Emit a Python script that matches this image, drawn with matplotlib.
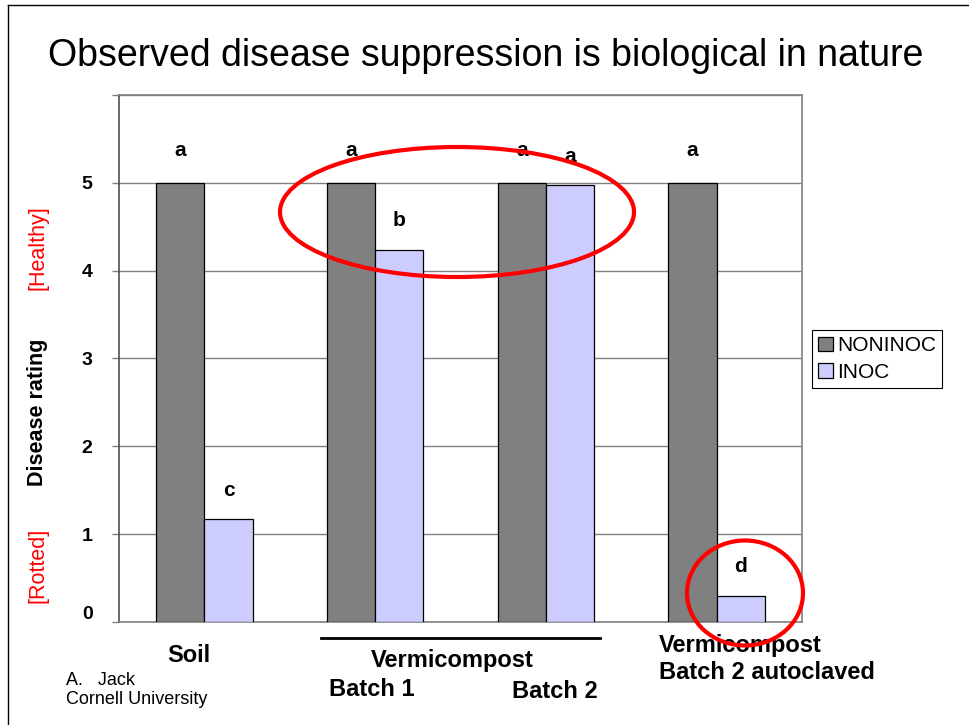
import numpy as np
import matplotlib.pyplot as plt
from matplotlib.patches import Ellipse
from matplotlib.lines import Line2D
import matplotlib.transforms as mtransforms

plt.rcParams['font.family'] = ['Liberation Sans', 'DejaVu Sans']

# Data
groups = ['Soil', 'Vermicompost Batch 1', 'Vermicompost Batch 2',
          'Vermicompost Batch 2 autoclaved']
noninoc = [5.0, 5.0, 5.0, 5.0]
inoc = [1.17, 4.24, 4.97, 0.30]
sig_noninoc = ['a', 'a', 'a', 'a']
sig_inoc = ['c', 'b', 'a', 'd']
yticks = [0, 1, 2, 3, 4, 5, 6]
ytick_labels = ['0', '1', '2', '3', '4', '5', '']

fig = plt.figure(figsize=(9.69, 7.25), dpi=100)
ax = fig.add_axes([0.1228, 0.1421, 0.7049, 0.7269])

x = np.arange(len(groups)) + 0.5
w = 0.283
ax.bar(x - w / 2, noninoc, w, color='#808080', edgecolor='black', linewidth=0.9,
       label='NONINOC', zorder=3)
ax.bar(x + w / 2, inoc, w, color='#CCCCFF', edgecolor='black', linewidth=0.9,
       label='INOC', zorder=3)

# significance letters
for xi, v, s in zip(x - w / 2, noninoc, sig_noninoc):
    ax.annotate(s, (xi, v), xytext=(0, 23), textcoords='offset points',
                ha='center', va='center', fontsize=15, fontweight='bold')
for xi, v, s in zip(x + w / 2, inoc, sig_inoc):
    ax.annotate(s, (xi, v), xytext=(0, 21), textcoords='offset points',
                ha='center', va='center', fontsize=15, fontweight='bold')

ax.set_xlim(0, len(groups))
ax.set_ylim(0, 6)
ax.set_yticks(yticks)
ax.set_yticklabels(ytick_labels, fontsize=14, fontweight='bold')
ax.tick_params(axis='y', length=5, width=1, pad=14, color='#808080')
ax.set_xticks([])
zero_lbl = ax.get_yticklabels()[0]
zero_lbl.set_transform(zero_lbl.get_transform() +
                       mtransforms.ScaledTranslation(0, 0.09, fig.dpi_scale_trans))
ax.yaxis.grid(True, color='#808080', linewidth=1, zorder=0)
for side in ['top', 'right', 'bottom']:
    ax.spines[side].set_color('#808080')
    ax.spines[side].set_linewidth(1.2)
ax.spines['left'].set_color('#505050')
ax.spines['left'].set_linewidth(1.2)

# y axis label pieces
fig.text(38 / 969, 1 - 248 / 725, '[Healthy]', rotation=90, color='red',
         fontsize=15.5, ha='center', va='center')
fig.text(38 / 969, 1 - 412 / 725, 'Disease rating', rotation=90,
         fontsize=15.5, fontweight='bold', ha='center', va='center')
fig.text(38 / 969, 1 - 565 / 725, '[Rotted]', rotation=90, color='red',
         fontsize=15.5, ha='center', va='center')

# category labels under the axis
trans = mtransforms.blended_transform_factory(ax.transData, fig.transFigure)
ax.text(x[0] - 0.09, 1 - 655 / 725, 'Soil', transform=trans, ha='center',
        va='center', fontsize=17, fontweight='bold')
ax.text((x[1] + x[2]) / 2 - 0.05, 1 - 660 / 725, 'Vermicompost', transform=trans,
        ha='center', va='center', fontsize=17, fontweight='bold')
ax.text(x[1] - 0.02, 1 - 690 / 725, 'Batch 1', transform=trans, ha='center',
        va='center', fontsize=17, fontweight='bold')
ax.text(x[2] + 0.05, 1 - 692 / 725, 'Batch 2', transform=trans, ha='center',
        va='center', fontsize=17, fontweight='bold')
ax.text(x[3] - 0.34, 1 - 659 / 725, 'Vermicompost\nBatch 2 autoclaved',
        transform=trans, ha='left', va='center', fontsize=17,
        fontweight='bold', linespacing=1.25)
fig.add_artist(Line2D([321 / 969, 600 / 969], [1 - 638 / 725, 1 - 638 / 725],
                      color='black', linewidth=2))

fig.text(66 / 969, 1 - 690 / 725, 'A.   Jack\nCornell University',
         fontsize=13, ha='left', va='center', linespacing=1.15)

# legend
leg = fig.legend(loc='upper left', bbox_to_anchor=(812 / 969, 1 - 330 / 725),
                 fontsize=15, frameon=True, fancybox=False, framealpha=1,
                 edgecolor='black', handlelength=0.7, handleheight=0.7,
                 handletextpad=0.2, borderpad=0.3, labelspacing=0.35,
                 borderaxespad=0)
leg.get_frame().set_linewidth(0.8)

# title
fig.text(486 / 969, 1 - 56 / 725,
         'Observed disease suppression is biological in nature',
         fontsize=27, ha='center', va='center')

# red highlight ellipses
fig.add_artist(Ellipse((457 / 969, 1 - 212 / 725), 354 / 969, 130 / 725,
                       transform=fig.transFigure, fill=False, edgecolor='red',
                       linewidth=3, zorder=10))
fig.add_artist(Ellipse((745 / 969, 1 - 593 / 725), 116 / 969, 105 / 725,
                       transform=fig.transFigure, fill=False, edgecolor='red',
                       linewidth=3, zorder=10))

# slide border
fig.add_artist(Line2D([8 / 969, 8 / 969], [0, 1 - 5 / 725], color='black',
                      linewidth=1))
fig.add_artist(Line2D([8 / 969, 1], [1 - 5 / 725, 1 - 5 / 725], color='black',
                      linewidth=1))

fig.savefig('out.png', dpi=100)
